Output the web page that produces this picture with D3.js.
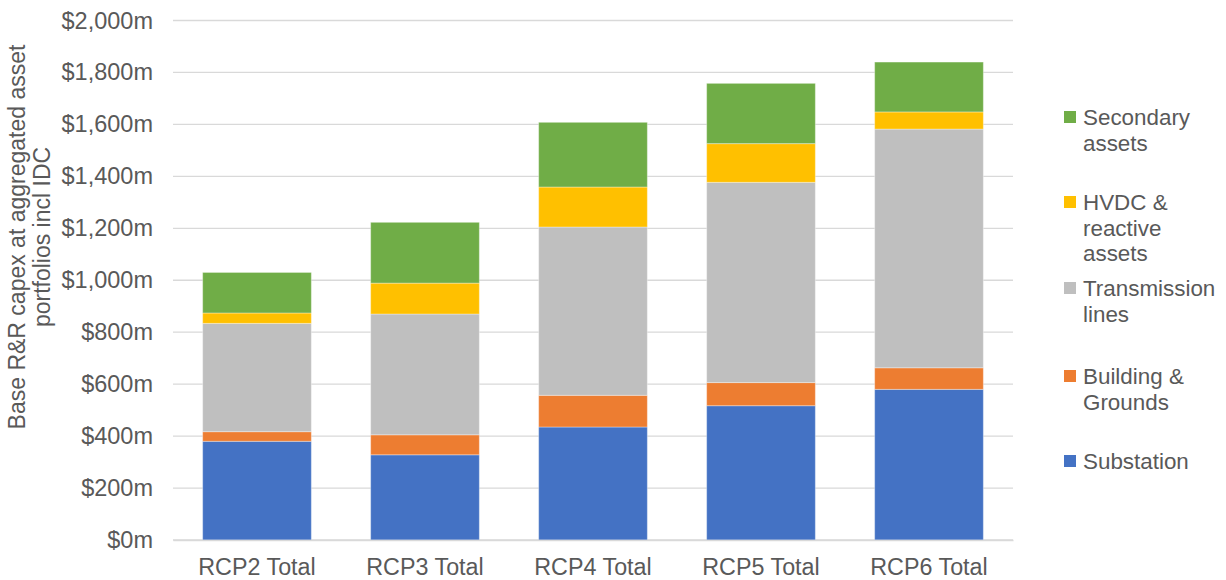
<!DOCTYPE html>
<html>
<head>
<meta charset="utf-8">
<script src="https://cdn.jsdelivr.net/npm/d3@7"></script>
<style>
  html, body { margin: 0; padding: 0; background: #fff; }
  svg text { font-family: "Liberation Sans", Arial, sans-serif; fill: #595959; }
</style>
</head>
<body>
<svg id="chart" width="1226" height="580"></svg>
<script>
// Base R&R capex by portfolio, $m
const categories = ["RCP2 Total", "RCP3 Total", "RCP4 Total", "RCP5 Total", "RCP6 Total"];
const seriesNames = ["Substation", "Building & Grounds", "Transmission lines", "HVDC & reactive assets", "Secondary assets"];
const substation = [380, 328, 435, 517, 580];
const buildingGrounds = [37, 77, 122, 89, 83];
const transmissionLines = [417, 465, 648, 771, 919];
const hvdcReactive = [40, 119, 154, 149, 66];
const secondaryAssets = [156, 234, 249, 232, 192];
const yTicks = [0, 200, 400, 600, 800, 1000, 1200, 1400, 1600, 1800, 2000];
const colors = ["#4472C4", "#ED7D31", "#BFBFBF", "#FFC000", "#70AD47"];

const seriesValues = [substation, buildingGrounds, transmissionLines, hvdcReactive, secondaryAssets];
const keys = seriesNames;
const rows = categories.map((c, i) => {
  const r = { category: c };
  keys.forEach((k, j) => { r[k] = seriesValues[j][i]; });
  return r;
});

const svg = d3.select("#chart");
const plot = { left: 173, right: 1013, top: 20.5, bottom: 540 };
const fontStack = '"Liberation Sans", Arial, sans-serif';

const x = d3.scaleBand().domain(categories).range([plot.left, plot.right]).paddingInner(0.353).paddingOuter(0.1765);
const y = d3.scaleLinear().domain([0, 2000]).range([plot.bottom, plot.top]);
const color = d3.scaleOrdinal().domain(keys).range(colors);

// gridlines
svg.append("g")
  .selectAll("line")
  .data(yTicks)
  .join("line")
  .attr("x1", plot.left).attr("x2", plot.right)
  .attr("y1", d => y(d)).attr("y2", d => y(d))
  .attr("stroke", "#D9D9D9").attr("stroke-width", 1.3);

// y axis labels
const yAxis = d3.axisLeft(y).tickValues(yTicks).tickSize(0).tickPadding(20)
  .tickFormat(d => "$" + d3.format(",")(d) + "m");
svg.append("g")
  .attr("transform", `translate(${plot.left},0)`)
  .call(yAxis)
  .call(g => g.select(".domain").remove())
  .call(g => g.selectAll("text").attr("font-size", 23.5).attr("fill", "#595959")
    .style("font-family", fontStack));

// stacked bars
const stacked = d3.stack().keys(keys)(rows);
svg.append("g")
  .selectAll("g")
  .data(stacked)
  .join("g")
  .attr("fill", d => color(d.key))
  .selectAll("rect")
  .data(d => d)
  .join("rect")
  .attr("x", d => x(d.data.category))
  .attr("width", x.bandwidth())
  .attr("y", d => y(d[1]))
  .attr("height", d => y(d[0]) - y(d[1]))
  .attr("stroke", "#fff").attr("stroke-opacity", 0.35).attr("stroke-width", 1);

// x axis
const xAxis = d3.axisBottom(x).tickSize(0).tickPadding(18);
svg.append("g")
  .attr("transform", `translate(0,${plot.bottom})`)
  .call(xAxis)
  .call(g => g.select(".domain").attr("stroke", "#D9D9D9").attr("stroke-width", 1.3))
  .call(g => g.selectAll("text").attr("font-size", 23.3).attr("fill", "#595959")
    .style("font-family", fontStack));

// y axis title
const yTitle = svg.append("text")
  .attr("transform", "translate(25,237) rotate(-90)")
  .attr("text-anchor", "middle")
  .attr("font-size", 23);
yTitle.append("tspan").attr("x", 0).attr("dy", 0).text("Base R&R capex at aggregated asset");
yTitle.append("tspan").attr("x", 0).attr("dy", 25).text("portfolios incl IDC");

// legend (top to bottom: reverse of stack order)
const legendItems = [
  { key: "Secondary assets", lines: ["Secondary", "assets"], y: 117 },
  { key: "HVDC & reactive assets", lines: ["HVDC &", "reactive", "assets"], y: 202 },
  { key: "Transmission lines", lines: ["Transmission", "lines"], y: 288 },
  { key: "Building & Grounds", lines: ["Building &", "Grounds"], y: 376 },
  { key: "Substation", lines: ["Substation"], y: 461 }
];
const legend = svg.append("g");
const li = legend.selectAll("g").data(legendItems).join("g")
  .attr("transform", d => `translate(1064,${d.y})`);
li.append("rect")
  .attr("x", 0).attr("y", -6).attr("width", 12).attr("height", 12)
  .attr("fill", d => color(d.key));
li.append("text")
  .attr("font-size", 22.4)
  .attr("x", 19)
  .attr("y", 8)
  .selectAll("tspan")
  .data(d => d.lines)
  .join("tspan")
  .attr("x", 19)
  .attr("dy", (d, i) => i === 0 ? 0 : 25.5)
  .text(d => d);
</script>
</body>
</html>
